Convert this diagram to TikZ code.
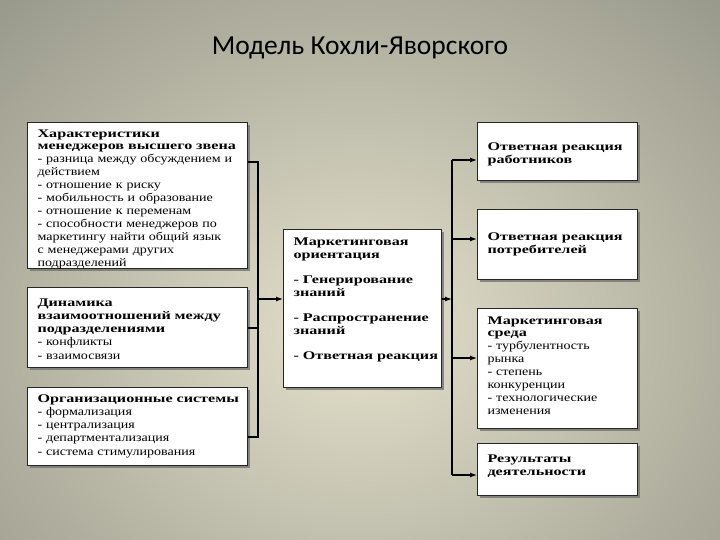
\documentclass[tikz,border=0pt]{standalone}
\usepackage{fontspec}
\setmainfont[FakeStretch=1.2, BoldFeatures={FakeStretch=1.38}]{Liberation Serif}
\newfontfamily\titlefont{Carlito}
\usetikzlibrary{arrows.meta,shadows}
\definecolor{bginner}{RGB}{228,226,204}
\definecolor{bgouter}{RGB}{140,140,128}
\tikzset{
  box/.style={draw=black!85, line width=1.1pt, fill=white, anchor=north west,
    align=left, inner xsep=10pt, inner ysep=3pt,
    font=\fontsize{11.7}{13}\selectfont,
    drop shadow={shadow xshift=2.5pt, shadow yshift=-2.5pt, fill=black!55, opacity=0.8}},
  boldbox/.style={box, font=\bfseries\fontsize{11.7}{13.5}\selectfont},
  link/.style={draw=black, line width=1.2pt},
  arr/.style={link, -{Latex[length=7pt,width=5pt]}}
}
\begin{document}
\begin{tikzpicture}[x=1pt,y=-1pt]
\useasboundingbox (0,0) rectangle (720,540);
\clip (0,0) rectangle (720,540);
\shade[inner color=bginner, outer color=bgouter] (-260,-200) rectangle (980,860);
\node[font=\titlefont\fontsize{27.5}{32}\selectfont] (title) at (360,48) {Модель Кохли-Яворского};

\node[box, text width=200pt, minimum width=217pt, text height=11.5pt, text depth=128.5pt, font=\fontsize{11.7}{12.9}\selectfont] (L1) at (27,122)
 {\textbf{Характеристики}\\\mbox{\textbf{менеджеров высшего звена}}\\\mbox{- разница между обсуждением и}\\действием\\- отношение к риску\\\mbox{- мобильность и образование}\\- отношение к переменам\\\mbox{- способности менеджеров по}\\\mbox{маркетингу найти общий язык}\\с менеджерами других\\подразделений};
\node[box, text width=200pt, minimum width=217pt, text height=15.5pt, text depth=58.5pt, font=\fontsize{11.7}{13.3}\selectfont] (L2) at (27,287)
 {\textbf{Динамика}\\\mbox{\textbf{взаимоотношений между}}\\\textbf{подразделениями}\\- конфликты\\- взаимосвязи};
\node[box, text width=200pt, minimum width=217pt, text height=11.5pt, text depth=60.5pt, font=\fontsize{11.7}{13.3}\selectfont] (L3) at (27,387)
 {\mbox{\textbf{Организационные системы}}\\- формализация\\- централизация\\- департментализация\\\mbox{- система стимулирования}};
\node[boldbox, text width=138pt, minimum width=155pt, text height=12.5pt, text depth=139.5pt] (C) at (283,229)
 {Маркетинговая\\ориентация\\[11pt]- Генерирование\\знаний\\[11pt]\mbox{- Распространение}\\знаний\\[11pt]\mbox{- Ответная реакция}};
\node[boldbox, text width=140pt, minimum width=157pt, text height=24.5pt, text depth=27.5pt] (R1) at (477,122)
 {\mbox{Ответная реакция}\\работников};
\node[boldbox, text width=140pt, minimum width=157pt, text height=27.5pt, text depth=36.5pt] (R2) at (477,209)
 {\mbox{Ответная реакция}\\потребителей};
\node[box, text width=140pt, minimum width=157pt, text height=12.5pt, text depth=101.5pt, font=\fontsize{11.7}{12.9}\selectfont] (R3) at (477,308)
 {\textbf{Маркетинговая}\\\textbf{среда}\\- турбулентность\\рынка\\- степень\\конкуренции\\\mbox{- технологические}\\изменения};
\node[boldbox, text width=140pt, minimum width=157pt, text height=15.5pt, text depth=30.5pt] (R4) at (477,443)
 {Результаты\\деятельности};

\coordinate (b1) at (258,162);
\coordinate (b2) at (258,328);
\coordinate (b3) at (258,437);
\coordinate (bm) at (258,299);
\coordinate (rm) at (452,299);
\coordinate (r1) at (452,160);
\coordinate (r2) at (452,239);
\coordinate (r3) at (452,358);
\coordinate (r4) at (452,475);

\draw[link] (L1.east |- b1) -- (b1) -- (b3) -- (L3.east |- b3);
\draw[link] (L2.east |- b2) -- (b2);
\draw[arr] (bm) -- (C.west |- bm);
\draw[arr] (C.east |- rm) -- (rm);
\draw[link] (r1) -- (r4);
\draw[arr] (r1) -- (R1.west |- r1);
\draw[arr] (r2) -- (R2.west |- r2);
\draw[arr] (r3) -- (R3.west |- r3);
\draw[arr] (r4) -- (R4.west |- r4);
\end{tikzpicture}
\end{document}
